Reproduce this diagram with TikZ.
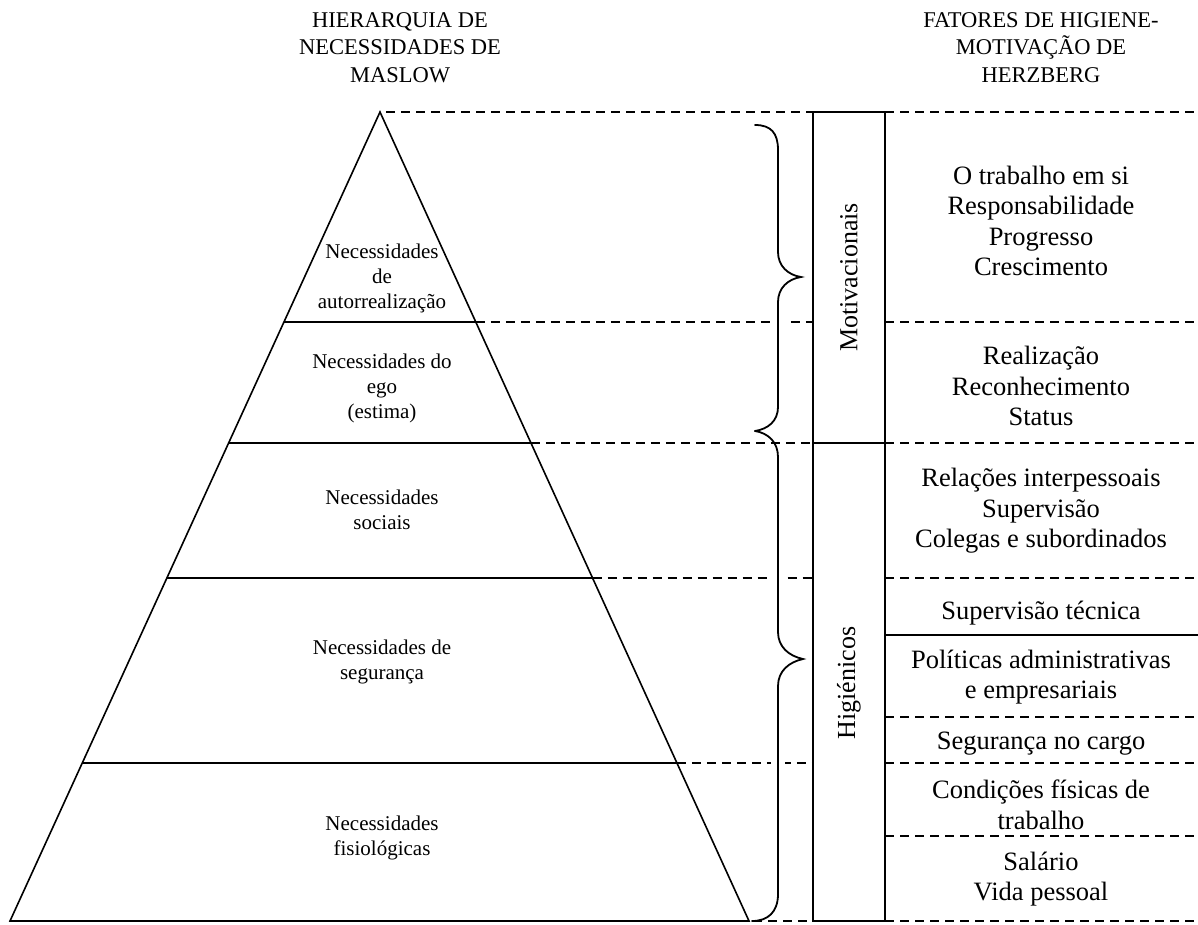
\documentclass[tikz,border=0pt]{standalone}
\usepackage{fontspec}
\setmainfont{Liberation Serif}
\usetikzlibrary{calc}
\begin{document}
\begin{tikzpicture}[x=1pt,y=-1pt,
  edge/.style={line width=1.6pt},
  guide/.style={line width=1.5pt, dash pattern=on 9pt off 6pt},
  boxline/.style={line width=2pt},
  bracepath/.style={line width=1.8pt, line cap=round},
  halo/.style={line width=14pt, white},
  ttl/.style={font=\fontsize{22.5}{27.5}\selectfont, align=center, inner sep=0pt},
  item/.style={font=\fontsize{26.5}{30.5}\selectfont, align=center, inner sep=0pt},
  lvl/.style={font=\fontsize{21}{25}\selectfont, align=center, inner sep=0pt},
  side/.style={font=\fontsize{26}{30}\selectfont, rotate=90, inner sep=0pt}]
\fill[white] (0,0) rectangle (1198,924);
\useasboundingbox (0,0) rectangle (1198,924);

% titles
\node[ttl] (tmaslow) at (400,47.5) {HIERARQUIA DE\\NECESSIDADES DE\\MASLOW};
\node[ttl] (therz) at (1041,47.5) {FATORES DE HIGIENE-\\MOTIVAÇÃO DE\\HERZBERG};

% pyramid
\coordinate (A) at (380,112);
\coordinate (BL) at (10,921);
\coordinate (BR) at (749,921);
\coordinate (L1) at ($(A)!0.2596!(BL)$);
\coordinate (R1) at ($(A)!0.2596!(BR)$);
\coordinate (L2) at ($(A)!0.4091!(BL)$);
\coordinate (R2) at ($(A)!0.4091!(BR)$);
\coordinate (L3) at ($(A)!0.5760!(BL)$);
\coordinate (R3) at ($(A)!0.5760!(BR)$);
\coordinate (L4) at ($(A)!0.8047!(BL)$);
\coordinate (R4) at ($(A)!0.8047!(BR)$);
\draw[edge] (BL) -- (A) -- (BR) -- cycle;
\draw[edge] (L1) -- (R1);
\draw[edge] (L2) -- (R2);
\draw[edge] (L3) -- (R3);
\draw[edge] (L4) -- (R4);

% box columns
\coordinate (M1) at (813,112);
\coordinate (M2) at (885,443);
\coordinate (H1) at (813,443);
\coordinate (H2) at (885,921);

% guide lines between pyramid and boxes
\draw[guide] ($(A)+(6,0)$) -- (A -| M1);
\draw[guide] (R1) -- (R1 -| M1);
\draw[guide] (R2) -- (R2 -| M1);
\draw[guide] (R3) -- (R3 -| M1);
\draw[guide] (R4) -- (R4 -| M1);
\draw[guide] ($(BR)+(4,0)$) -- (BR -| M1);

% halos and braces
\draw[halo] (778,150) -- (778,252);
\draw[halo] (778,302) -- (778,407);
\draw[halo] (778,457) -- (778,632);
\draw[halo] (778,686) -- (778,894);
\draw[bracepath] (755,125) .. controls (771,125) and (778,133) .. (778,150) -- (778,252)
  .. controls (778,266) and (788,275) .. (801,277)
  .. controls (788,279) and (778,288) .. (778,302) -- (778,407)
  .. controls (778,421) and (768,429) .. (755,431);
\draw[bracepath] (755,431) .. controls (768,433) and (778,442) .. (778,457) -- (778,632)
  .. controls (778,647) and (789,656) .. (803,659)
  .. controls (789,662) and (778,671) .. (778,686) -- (778,894)
  .. controls (778,912) and (768,921) .. (752,921);

% boxes
\draw[boxline] (M1) rectangle (M2);
\draw[boxline] (H1) rectangle (H2);
\node[side] (mot) at (849,277.5) {Motivacionais};
\node[side] (hig) at (849,683) {Higiénicos};

% right column lines
\foreach \yy in {112,322,443,578,717,763,836,921}
  \draw[guide] (885,\yy) -- (1198,\yy);
\draw[edge] (885,635) -- (1198,635);

% pyramid labels
\node[lvl] (p1) at (382,278) {Necessidades\\de\\autorrealização};
\node[lvl] (p2) at (382,388) {Necessidades do\\ego\\(estima)};
\node[lvl] (p3) at (382,510) {Necessidades\\sociais};
\node[lvl] (p4) at (382,662) {Necessidades de\\segurança};
\node[lvl] (p5) at (382,838) {Necessidades\\fisiológicas};

% Herzberg factors
\node[item] (f1) at (1041,221) {O trabalho em si\\Responsabilidade\\Progresso\\Crescimento};
\node[item] (f2) at (1041,386) {Realização\\Reconhecimento\\Status};
\node[item] (f3) at (1041,511) {Relações interpessoais\\Supervisão\\Colegas e subordinados};
\node[item] (f4) at (1041,613) {Supervisão técnica};
\node[item] (f5) at (1041,677) {Políticas administrativas\\e empresariais};
\node[item] (f6) at (1041,744) {Segurança no cargo};
\node[item] (f7) at (1041,805) {Condições físicas de\\trabalho};
\node[item] (f8) at (1041,879) {Salário\\Vida pessoal};
\end{tikzpicture}
\end{document}
